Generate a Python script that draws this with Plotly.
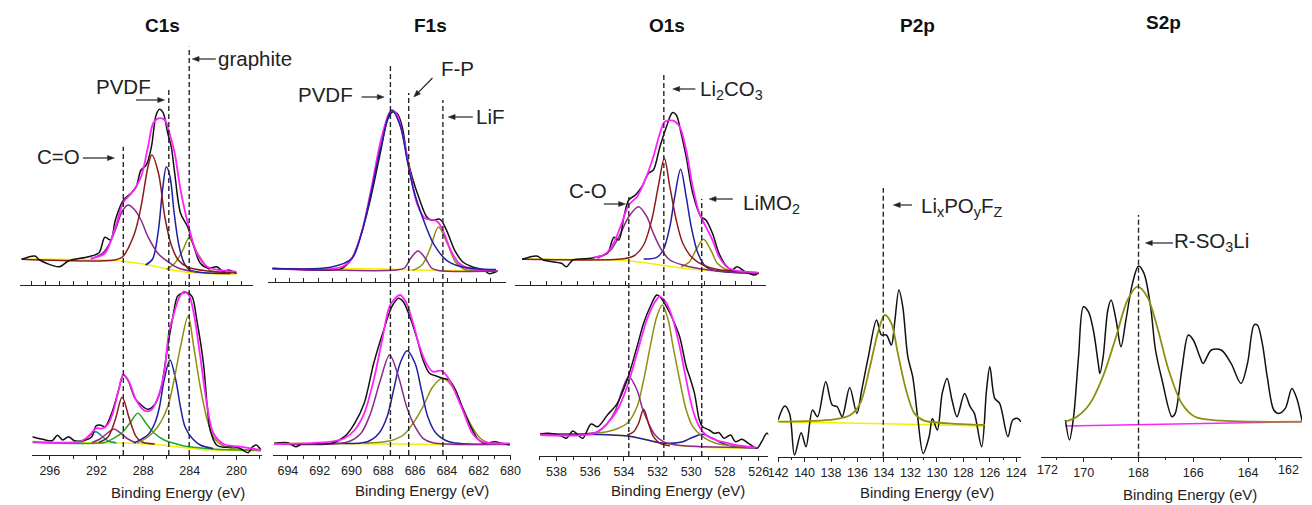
import math
import plotly.graph_objects as go

W, H = 1312, 505

# ---------------- data: (binding energy eV, intensity a.u.) ----------------
# C1s, upper spectrum
C1S_TOP_EXP = [(298.45, 25.7), (297.3, 29), (296.9, 25), (295.2, 18.3), (294.4, 24.3), (292.7, 28.3), (291.8, 32.3),
               (291.3, 47.7), (290.8, 45), (290.4, 65), (289.7, 85), (289.0, 92.3), (288.6, 98.3), (288.2, 115),
               (287.75, 120), (287.3, 138.3), (286.9, 170), (286.6, 175.7), (286.3, 172.3), (285.9, 151.7),
               (285.6, 138.3), (285.3, 111.7), (284.8, 71.7), (284.2, 58.3), (283.65, 38.3), (283.1, 21.7),
               (282.4, 16.7), (281.7, 18.3), (281.1, 13.3), (280.7, 15), (280.0, 11.7)]
C1S_TOP_FIT = [(292.5, 26.5), (291.3, 31.7), (290.4, 58), (289.7, 83), (289.0, 92), (288.2, 108), (287.6, 138),
               (287.15, 161.7), (286.7, 166.7), (286.15, 165), (285.75, 151.7), (285.3, 131.7), (284.8, 95),
               (284.1, 58.3), (283.4, 31.7), (282.5, 18.3), (281.1, 14.3), (280.0, 13.3)]
C1S_TOP_BG = [(298.45, 25.7), (292.0, 25.3), (290.0, 24), (288.0, 21), (286.5, 17.5), (285.0, 14), (283.5, 12), (280.0, 11)]
C1S_TOP_CO = [(292.5, 26), (291.5, 31.7), (290.97, 40), (290.4, 55), (289.8, 74), (289.3, 80), (288.8, 76), (288.2, 65),
              (287.6, 48.3), (286.75, 31.7), (285.9, 23.3), (285.0, 17), (283.5, 13)]
C1S_TOP_PK2 = [(298.45, 25.7), (290.5, 25), (289.8, 28), (288.8, 50), (288.2, 78), (287.6, 118), (287.27, 130),
               (286.7, 112), (286.15, 68), (285.6, 40), (285.0, 25), (284.2, 18), (282.5, 14), (280.0, 12)]
C1S_TOP_PVDF = [(287.8, 20), (287.2, 26), (286.7, 55), (286.35, 95), (286.02, 118.3), (285.7, 108), (285.35, 72),
                (284.95, 40), (284.5, 22), (284.0, 15), (283.0, 12.5), (280.5, 11.5)]
C1S_TOP_GRAPH = [(286.0, 15.5), (285.3, 21.7), (284.6, 35), (284.08, 46.7), (283.4, 33), (282.8, 22), (282.3, 15),
                 (281.5, 12.5), (280.5, 12)]

# C1s, lower spectrum
C1S_BOT_EXP = [(297.5, 18.3), (296.6, 15.7), (295.8, 14.3), (295.35, 19.7), (294.9, 15), (294.4, 18.3), (293.9, 14.3),
               (293.2, 14.3), (292.4, 18.3), (292.05, 29), (291.7, 30), (291.27, 28.3), (290.7, 41.7), (290.1, 65),
               (289.7, 80), (289.3, 75), (288.7, 56.7), (288.17, 50), (287.6, 45.7), (287.04, 50), (286.5, 65),
               (285.9, 108.3), (285.5, 135), (285.07, 158.3), (284.8, 161), (284.2, 162.3), (283.8, 158.3),
               (283.4, 135), (282.83, 91.7), (282.5, 48.3), (282.25, 25), (281.7, 10), (281.1, 7.7), (280.3, 8.3),
               (279.7, 6.7), (279.0, 2.3), (278.6, 8.3), (278.3, 10), (277.9, 5)]
C1S_BOT_FIT = [(297.5, 13.3), (293.3, 14), (292.5, 21), (292.05, 26.7), (291.5, 26.5), (291.0, 31), (290.6, 42),
               (290.1, 65), (289.7, 80.7), (289.15, 71.7), (288.6, 55), (287.88, 44.3), (287.3, 45), (286.76, 56.7),
               (286.2, 81.7), (285.8, 121.7), (285.35, 141.7), (284.93, 156.7), (284.5, 163.3), (284.08, 160),
               (283.66, 141.7), (283.1, 98.3), (282.5, 48.3), (281.97, 21.7), (281.1, 11), (279.7, 8.3), (277.9, 5)]
C1S_BOT_BG = [(297.5, 12.5), (290.0, 12), (287.0, 10.5), (285.0, 8), (283.0, 5.5), (277.9, 4.5)]
C1S_BOT_P1 = [(293.8, 12.5), (293.1, 14), (292.6, 19), (292.05, 23.3), (291.55, 19), (291.0, 14), (290.3, 12.3)]
C1S_BOT_P2 = [(292.4, 12.3), (291.7, 16), (291.0, 22.5), (290.5, 26), (290.0, 22.5), (289.3, 16), (288.6, 12.2)]
C1S_BOT_P3 = [(291.8, 12.5), (291.0, 18.3), (290.4, 35), (289.8, 57.7), (289.15, 35), (288.6, 18.3), (288.1, 13), (287.0, 11)]
C1S_BOT_P4 = [(297.5, 12.5), (291.3, 12.5), (290.7, 15.7), (289.86, 21.7), (289.15, 31.7), (288.45, 41.7), (287.75, 31.7),
              (287.04, 21.7), (286.2, 15), (285.35, 11.7), (284.5, 9), (282.0, 6), (277.9, 4.5)]
C1S_BOT_P5 = [(288.8, 12), (288.17, 15.7), (287.6, 20), (287.0, 31.7), (286.6, 48), (286.2, 75), (285.7, 95), (285.2, 75),
              (284.8, 48), (284.4, 28), (283.8, 16.7), (283.1, 10), (282.0, 6.5)]
C1S_BOT_P6 = [(288.5, 12), (287.6, 18), (286.76, 28), (285.9, 48), (285.35, 75), (284.8, 108), (284.14, 139),
              (283.66, 108), (283.1, 68), (282.5, 35), (281.97, 18), (281.1, 9), (280.0, 6), (277.9, 4.5)]

# F1s, upper spectrum
F1S_TOP_EXP = [(694.97, 13.4), (693.32, 12.4), (691.67, 11.7), (690.64, 13.4), (690.0, 23.4), (689.4, 48.4),
               (688.8, 85), (688.18, 131.7), (687.77, 161.7), (687.46, 170), (687.15, 168.4), (686.84, 155),
               (686.53, 125), (686.22, 105), (685.81, 85), (685.3, 65), (685.0, 61.7), (684.47, 62.7),
               (684.06, 51.7), (683.55, 31.7), (683.04, 20), (682.42, 15), (681.7, 11.7), (681.4, 8.4), (680.87, 11)]
F1S_TOP_FIT = [(694.97, 13.4), (690.64, 15), (690.0, 23.4), (689.4, 48.4), (688.8, 91.7), (688.18, 141.7),
               (687.67, 168.4), (687.46, 171.7), (687.15, 166.7), (686.74, 141.7), (686.33, 108.4), (685.91, 78.4),
               (685.4, 63.4), (684.88, 62), (684.6, 60), (684.2, 48), (683.8, 32), (683.3, 19), (682.63, 13.4),
               (680.87, 11)]
F1S_TOP_BG = [(694.97, 13.4), (688.0, 13), (686.0, 12), (684.0, 11.5), (680.87, 11)]
F1S_TOP_PVDF = [(694.97, 13.4), (691.26, 15), (690.0, 23.4), (689.4, 48.4), (688.8, 88.4), (688.18, 135), (687.5, 171.7),
                (686.94, 155), (686.53, 121.7), (686.12, 91.7), (685.5, 61.7), (684.88, 38.4), (684.06, 21.7),
                (683.04, 15), (680.97, 12.4)]
F1S_TOP_FP = [(694.97, 13.4), (687.2, 12), (686.7, 14), (686.3, 24), (685.85, 31), (685.4, 24), (685.0, 14),
              (684.6, 11.5), (680.87, 11)]
F1S_TOP_LIF = [(686.2, 11.5), (685.6, 17), (685.1, 33), (684.57, 55), (684.0, 38), (683.5, 20), (682.9, 12.5), (682.0, 11)]

# F1s, lower spectrum
F1S_BOT_EXP = [(694.86, 11.7), (694.0, 12.3), (693.5, 8.3), (693.1, 11), (691.26, 11.7), (690.44, 18.3), (689.8, 31.7),
               (689.2, 51.7), (688.6, 91.7), (687.97, 125), (687.46, 148.3), (687.04, 156.7), (686.74, 153.3),
               (686.33, 138.3), (685.91, 118.3), (685.5, 95), (685.09, 81.7), (684.68, 79), (684.27, 76.7),
               (683.86, 75), (683.45, 65), (683.04, 48.3), (682.5, 28.3), (682.0, 15), (681.6, 11.7), (680.97, 13.3),
               (680.56, 11.7), (680.05, 10)]
F1S_BOT_FIT = [(694.86, 11), (691.26, 13.3), (690.44, 16.7), (689.8, 25), (689.2, 41.7), (688.6, 75), (688.07, 115),
               (687.56, 150), (686.94, 160), (686.53, 151.7), (686.12, 131.7), (685.71, 108.3), (685.3, 91.7),
               (684.88, 83.3), (684.37, 84.3), (683.96, 78.3), (683.45, 61.7), (682.92, 41.7), (682.4, 21.7),
               (681.8, 13.3), (680.05, 11.7)]
F1S_BOT_BG = [(694.86, 11.7), (687.0, 11), (684.0, 10.5), (680.05, 10)]
F1S_BOT_PVDF = [(694.86, 11), (690.2, 13.3), (689.4, 21.7), (688.8, 41.7), (688.18, 75), (687.6, 100), (687.04, 78.3),
                (686.53, 48.3), (686.0, 28.3), (685.5, 16.7), (684.88, 12.3), (680.05, 11)]
F1S_BOT_FP = [(691.26, 11.7), (689.0, 13.3), (688.27, 21.7), (687.76, 38.3), (687.35, 65), (686.94, 91.7), (686.5, 104.3),
              (686.0, 91.7), (685.6, 65), (685.2, 38.3), (684.68, 21.7), (683.86, 13.3), (680.05, 11)]
F1S_BOT_LIF = [(689.2, 11.7), (687.56, 14.3), (686.74, 20), (686.12, 31.7), (685.5, 48.3), (684.88, 68.3), (684.27, 76.7),
               (683.65, 68.3), (683.04, 48.3), (682.42, 28.3), (681.9, 16.7), (681.4, 12.3), (680.05, 11)]

# O1s, upper spectrum
O1S_TOP_EXP = [(540.05, 25.7), (539.17, 29), (538.78, 25), (537.71, 21.7), (537.42, 18.3), (537.03, 25), (535.95, 26.7),
               (535.56, 28.3), (534.98, 31.7), (534.59, 47.7), (534.30, 45), (534.0, 68.3), (533.71, 85), (533.32, 90),
               (532.93, 98.3), (532.54, 111.7), (532.25, 115), (531.86, 138.3), (531.47, 158.3), (531.12, 172.3),
               (530.89, 170), (530.6, 151.7), (530.3, 128.3), (529.91, 91.7), (529.42, 68.3), (529.13, 65),
               (528.74, 51.7), (528.35, 31.7), (527.96, 20), (527.57, 15), (527.28, 18.3), (526.79, 13.3),
               (526.21, 10), (526.01, 12.3)]
O1S_TOP_FIT = [(535.8, 27.5), (535.2, 30), (534.78, 36.7), (534.2, 58.3), (533.71, 80), (533.22, 88.3), (532.74, 105),
               (532.25, 128.3), (531.86, 151.7), (531.57, 163.3), (531.08, 164.3), (530.69, 158.3), (530.3, 135),
               (529.91, 98.3), (529.52, 71.7), (529.13, 58.3), (528.74, 45), (528.35, 28.3), (527.77, 16.7),
               (526.01, 12.3)]
O1S_TOP_BG = [(540.05, 25.7), (533.81, 24.3), (531.86, 20), (529.91, 15.7), (527.96, 13.3), (526.01, 11)]
O1S_TOP_CO = [(535.56, 26.7), (534.78, 35), (534.2, 51.7), (533.71, 68.3), (533.13, 78.3), (532.64, 68.3),
              (532.25, 51.7), (531.76, 35), (531.27, 25), (530.5, 20), (528.94, 15), (526.01, 11.7)]
O1S_TOP_CARB = [(540.05, 25.7), (534.0, 26.3), (533.42, 29), (532.83, 40), (532.35, 65), (531.96, 98.3), (531.6, 126.7),
                (531.27, 98.3), (530.89, 65), (530.5, 41.7), (530.0, 28.3), (529.3, 20), (528.5, 15.7), (526.01, 12.3)]
O1S_TOP_PK3 = [(532.83, 26), (532.05, 27.7), (531.66, 35), (531.27, 58.3), (530.98, 88.3), (530.63, 115.7), (530.3, 88.3),
               (530.0, 58.3), (529.6, 31.7), (529.13, 18.3), (528.55, 14.3), (526.01, 11.7)]
O1S_TOP_LIMO = [(530.6, 18.3), (530.1, 23.3), (529.72, 35), (529.27, 45.7), (528.84, 35), (528.45, 21.7), (527.96, 15.7),
                (527.38, 13.3)]

# O1s, lower spectrum
O1S_BOT_EXP = [(538.97, 22), (538.49, 22.7), (537.71, 20), (537.42, 17.7), (537.03, 25), (536.73, 21), (536.44, 17.7),
               (535.95, 32), (535.56, 29.3), (534.98, 41), (534.39, 52.7), (533.81, 76), (533.22, 109.3),
               (532.83, 132.7), (532.44, 149.3), (532.05, 161), (531.86, 159.3), (531.47, 149.3), (531.08, 136),
               (530.69, 119.3), (530.3, 89.3), (530.1, 79.3), (529.81, 62.7), (529.52, 36), (529.33, 29.3),
               (528.94, 26), (528.64, 22.7), (528.35, 23.3), (528.06, 17.7), (527.67, 21), (527.38, 14.3),
               (526.99, 16.7), (526.6, 12.7), (526.11, 7.7), (525.82, 14.3), (525.52, 22.7), (525.33, 20)]
O1S_BOT_FIT = [(538.97, 21), (535.76, 22.7), (534.98, 32.7), (534.39, 46), (533.81, 69.3), (533.22, 102.7),
               (532.64, 136), (532.15, 154.3), (531.86, 159.3), (531.47, 152.7), (531.08, 136), (530.69, 109.3),
               (530.3, 76), (529.91, 46), (529.52, 29.3), (529.13, 21), (528.55, 16), (527.77, 12.7), (526.99, 10),
               (526.11, 8.3)]
O1S_BOT_BG = [(538.97, 22), (533.81, 20), (531.86, 13.3), (529.91, 9.3), (526.11, 8)]
O1S_BOT_CARB = [(538.97, 22), (535.0, 24.3), (533.81, 32.7), (533.22, 49.3), (532.83, 76), (532.44, 109.3), (532.05, 139.3),
                (531.72, 151), (531.37, 136), (531.08, 109.3), (530.69, 76), (530.3, 46), (529.91, 29.3),
                (529.33, 19.3), (528.55, 12.7), (526.99, 9.3), (526.11, 8.3)]
O1S_BOT_CO = [(538.97, 22), (535.56, 24.3), (534.98, 32.7), (534.49, 46), (534.1, 66), (533.71, 79.3), (533.22, 66),
              (532.93, 49.3), (532.54, 32.7), (532.15, 21), (531.66, 14.3), (530.89, 11), (526.11, 8.3)]
O1S_BOT_PK3 = [(533.81, 21), (533.42, 24.3), (533.13, 32.7), (532.83, 46.7), (532.54, 32.7), (532.25, 19.3),
               (531.86, 12.7), (531.27, 10.3)]
O1S_BOT_LIMO = [(538.97, 22), (533.81, 20), (531.86, 13.3), (531.27, 12.7), (530.5, 14.3), (529.91, 18.7), (529.33, 21.7),
                (528.74, 17.7), (528.16, 12.7), (527.38, 9.3), (526.11, 8)]

# P2p
P2P_EXP = [(142.0, 36.7), (141.5, 50.7), (141.13, 43), (140.76, 1.7), (140.26, 24), (139.89, 10), (139.4, 46.7),
           (139.02, 40), (138.4, 75), (137.91, 51.7), (137.54, 50), (137.16, 40), (136.59, 69.3), (136.05, 43.3),
           (135.68, 66.7), (135.18, 100), (134.56, 136.7), (134.19, 121.7), (133.82, 121.7), (133.44, 111.7),
           (133.2, 133.3), (132.87, 166.7), (132.58, 150), (132.2, 100), (131.83, 80), (131.46, 40), (131.04, 3.3),
           (130.59, 20), (130.34, 38.3), (129.97, 26.7), (129.6, 63.3), (129.23, 78.3), (128.86, 56.7), (128.48, 40),
           (127.91, 63.3), (127.49, 50), (127.17, 43.3), (126.62, 10), (126.25, 66.7), (126.0, 90), (125.63, 58.3),
           (125.26, 53.3), (124.64, 20), (124.27, 36.7), (123.9, 38.3), (123.65, 35)]
P2P_FIT = [(142.0, 35), (137.78, 37.3), (136.54, 41.7), (135.8, 53.3), (135.06, 90), (134.44, 125), (133.94, 141.7),
           (133.44, 133.3), (132.95, 103.3), (132.33, 66.7), (131.7, 43.3), (130.96, 36), (129.1, 33.3), (126.38, 31.7)]
P2P_BG = [(142.0, 35), (134.0, 33), (126.38, 30.7)]

# S2p
S2P_EXP = [(170.67, 36.7), (170.52, 16.7), (170.37, 40), (170.19, 100), (170.01, 150), (169.83, 145), (169.65, 126.7),
           (169.47, 93.3), (169.41, 83.3), (169.29, 100), (169.12, 146.7), (169.0, 156.7), (168.82, 136.7),
           (168.64, 110), (168.46, 136.7), (168.22, 173.3), (168.0, 190.7), (167.8, 183.3), (167.56, 150),
           (167.38, 106.7), (167.14, 76.7), (166.78, 40), (166.66, 43.3), (166.42, 86.7), (166.18, 121.7),
           (166.0, 116.7), (165.76, 100), (165.64, 93.3), (165.34, 106.7), (164.98, 106.7), (164.62, 93.3),
           (164.26, 73.3), (164.02, 93.3), (163.78, 131.7), (163.66, 131.7), (163.48, 113.3), (163.3, 80),
           (163.06, 46.7), (162.88, 43.3), (162.64, 48.3), (162.4, 68.3), (162.22, 58.3), (162.03, 36)]
S2P_FIT = [(170.67, 35), (170.25, 40), (169.77, 53.3), (169.3, 80), (168.82, 120), (168.4, 156.7), (168.04, 170),
           (167.68, 160), (167.32, 130), (166.9, 86.7), (166.42, 53.3), (165.94, 40), (164.98, 36), (163.78, 35),
           (162.03, 35)]
S2P_BG = [(170.67, 30.7), (162.03, 35)]
# S2p edge labels drawn squeezed at the axis ends in the original figure
S2P_EDGE_LABELS = ["172", "162"]

# peak assignment positions (eV)
C1S_LINES = [289.7, 285.8, 284.05]
F1S_LINES = [687.55, 686.4, 684.25]
O1S_LINES = [533.71, 531.63, 529.38]
P2P_LINES = [134.05]
S2P_LINES = [168.0]

TITLES = ["C1s", "F1s", "O1s", "P2p", "S2p"]

# ---------------- styling ----------------
BLACK = "#111111"
MAGENTA = "#ff22ff"
PURPLE = "#8b2a8b"
BROWN = "#8e1b1b"
BLUE = "#1f1fa3"
OLIVE = "#8f8f12"
YELLOW = "#f2f200"
TEAL = "#178f8f"
GREEN = "#22a822"
FONT = "Liberation Sans, Arial, sans-serif"


def PX(x):
    return x / W


def PY(y):
    return 1 - y / H


# panel geometry in pixels: (left, right, top, bottom(axis line)), x range, bottom?, dtick, minor dtick
PANELS = [
    dict(px=(10, 247, 40, 285), xr=(298.6, 278.56), bottom=False, dtick=1.2),
    dict(px=(22.7, 256, 285, 455), xr=(297.5, 277.8), bottom=True, dtick=4, minor=2),
    dict(px=(262, 503.3, 40, 282), xr=(695.25, 680.36), bottom=False, dtick=0.9),
    dict(px=(267, 509, 285, 455), xr=(694.94, 679.95), bottom=True, dtick=2, minor=1),
    dict(px=(513, 768, 40, 285), xr=(540.46, 525.54), bottom=False, dtick=0.94),
    dict(px=(536.7, 770, 285, 456), xr=(539.07, 525.43), bottom=True, dtick=2, minor=1),
    dict(px=(780, 1027, 150, 456.7), xr=(142.0, 123.62), bottom=True, dtick=2, minor=1),
    dict(px=(1046.7, 1312, 150, 456.7), xr=(171.57, 162.03), bottom=True, dtick=2, minor=1),
]

fig = go.Figure()


def add(panel, pts, color, width=1.5):
    i = panel + 1
    fig.add_trace(go.Scatter(
        x=[p[0] for p in pts], y=[p[1] for p in pts], mode="lines",
        line=dict(color=color, width=width, shape="spline", smoothing=0.9),
        xaxis="x" if i == 1 else f"x{i}", yaxis="y" if i == 1 else f"y{i}",
        hoverinfo="skip", showlegend=False))


# C1s
add(0, C1S_TOP_BG, YELLOW); add(0, C1S_TOP_GRAPH, OLIVE); add(0, C1S_TOP_PVDF, BLUE); add(0, C1S_TOP_CO, PURPLE)
add(0, C1S_TOP_PK2, BROWN); add(0, C1S_TOP_EXP, BLACK); add(0, C1S_TOP_FIT, MAGENTA, 1.8)
add(1, C1S_BOT_BG, YELLOW); add(1, C1S_BOT_P4, GREEN); add(1, C1S_BOT_P1, TEAL); add(1, C1S_BOT_P2, PURPLE)
add(1, C1S_BOT_P3, BROWN); add(1, C1S_BOT_P5, BLUE); add(1, C1S_BOT_P6, OLIVE)
add(1, C1S_BOT_EXP, BLACK); add(1, C1S_BOT_FIT, MAGENTA, 1.8)
# F1s
add(2, F1S_TOP_BG, YELLOW); add(2, F1S_TOP_LIF, OLIVE); add(2, F1S_TOP_EXP, BLACK); add(2, F1S_TOP_FIT, MAGENTA, 1.8)
add(2, F1S_TOP_FP, PURPLE); add(2, F1S_TOP_PVDF, BLUE)
add(3, F1S_BOT_BG, YELLOW); add(3, F1S_BOT_LIF, OLIVE); add(3, F1S_BOT_FP, BLUE); add(3, F1S_BOT_PVDF, PURPLE)
add(3, F1S_BOT_EXP, BLACK); add(3, F1S_BOT_FIT, MAGENTA, 1.8)
# O1s
add(4, O1S_TOP_BG, YELLOW); add(4, O1S_TOP_LIMO, OLIVE); add(4, O1S_TOP_PK3, BLUE); add(4, O1S_TOP_CO, PURPLE)
add(4, O1S_TOP_CARB, BROWN); add(4, O1S_TOP_EXP, BLACK); add(4, O1S_TOP_FIT, MAGENTA, 1.8)
add(5, O1S_BOT_BG, YELLOW); add(5, O1S_BOT_LIMO, BLUE); add(5, O1S_BOT_CARB, OLIVE); add(5, O1S_BOT_CO, PURPLE)
add(5, O1S_BOT_PK3, BROWN); add(5, O1S_BOT_EXP, BLACK); add(5, O1S_BOT_FIT, MAGENTA, 1.8)
# P2p, S2p
add(6, P2P_BG, YELLOW); add(6, P2P_EXP, BLACK); add(6, P2P_FIT, OLIVE, 1.8)
add(7, S2P_BG, MAGENTA); add(7, S2P_EXP, BLACK); add(7, S2P_FIT, OLIVE, 1.8)

layout = dict(width=W, height=H, margin=dict(l=0, r=0, t=0, b=0), paper_bgcolor="white",
              plot_bgcolor="rgba(0,0,0,0)", font=dict(family=FONT, color="#222"), showlegend=False)

for k, p in enumerate(PANELS):
    i = k + 1
    xl, xr, yt, yb = p["px"]
    xname = "xaxis" if i == 1 else f"xaxis{i}"
    yname = "yaxis" if i == 1 else f"yaxis{i}"
    xa = dict(domain=[PX(xl), PX(xr)], range=list(p["xr"]), anchor="y" if i == 1 else f"y{i}",
              showline=True, linecolor="#222", linewidth=1.3, showgrid=False, zeroline=False,
              ticks="outside" if p["bottom"] else "inside", ticklen=4, tickwidth=1, tickcolor="#222",
              dtick=p["dtick"], tick0=0, showticklabels=p["bottom"],
              tickfont=dict(size=12.5, color="#222", family=FONT), fixedrange=True)
    if p["bottom"]:
        xa["minor"] = dict(dtick=p["minor"], ticks="outside", ticklen=2.5, tickcolor="#222", tickwidth=1)
    layout[xname] = xa
    layout[yname] = dict(domain=[PY(yb), PY(yt)], range=[0, yb - yt], visible=False,
                         anchor="x" if i == 1 else f"x{i}", fixedrange=True)

shapes = []
# dashed assignment lines: (axis, energies, start y px for each, end y px)
DASH = [("x2", C1S_LINES, [146.7, 90, 46.7], 455), ("x4", F1S_LINES, [65, 93, 100], 455),
        ("x6", O1S_LINES, [197, 73, 199], 456), ("x7", P2P_LINES, [188], 456.7), ("x8", S2P_LINES, [215], 456.7)]
for ax, es, tops, bot in DASH:
    for e, t in zip(es, tops):
        shapes.append(dict(type="line", xref=ax, yref="paper", x0=e, x1=e, y0=PY(bot), y1=PY(t),
                           line=dict(color="#262626", width=1.4, dash="5px,3px")))

# arrows: head (x, y), tail (x, y) in pixels
ARROWS = [((106, 158), (74, 158)), ((157, 100), (128, 100)), ((185, 59), (209, 59)),
          ((380, 97), (357, 97)), ((410, 97), (429, 78)), ((445, 117), (470, 117)),
          ((673, 89), (696, 89)), ((625, 204), (603, 204)), ((710, 199), (734, 199)),
          ((897, 205), (916, 205)), ((1153, 243), (1181, 243))]
for (hx, hy), (tx, ty) in ARROWS:
    L = math.hypot(hx - tx, hy - ty)
    dx, dy = (hx - tx) / L, (hy - ty) / L
    nx, ny = -dy, dx
    bx, by = hx - 7 * dx, hy - 7 * dy
    shapes.append(dict(type="line", xref="paper", yref="paper", x0=PX(tx), y0=PY(ty), x1=PX(bx), y1=PY(by),
                       line=dict(color="#222", width=1.2)))
    path = (f"M {PX(hx)},{PY(hy)} L {PX(bx + 2.6 * nx)},{PY(by + 2.6 * ny)} "
            f"L {PX(bx - 2.6 * nx)},{PY(by - 2.6 * ny)} Z")
    shapes.append(dict(type="path", xref="paper", yref="paper", path=path, fillcolor="#222",
                       line=dict(color="#222", width=0.5)))
layout["shapes"] = shapes

ann = []
# panel titles
for t, (x, y) in zip(TITLES, [(155, 25), (427, 25), (667, 25), (922, 25), (1171, 22)]):
    ann.append(dict(text=f"<b>{t}</b>", x=PX(x), y=PY(y), xref="paper", yref="paper", showarrow=False,
                    xanchor="center", yanchor="middle", font=dict(size=19, color="#111", family=FONT)))
# axis titles
for x, y in [(171, 492), (418, 490), (678, 490), (931, 492), (1198, 494)]:
    ann.append(dict(text="Binding Energy (eV)", x=PX(x), y=PY(y), xref="paper", yref="paper", showarrow=False,
                    xanchor="center", yanchor="middle", font=dict(size=15, color="#222", family=FONT)))
# S2p end labels as they appear in the original
for t, x in zip(S2P_EDGE_LABELS, [1054, 1298]):
    ann.append(dict(text=t, x=PX(x), y=PY(470), xref="paper", yref="paper", showarrow=False,
                    xanchor="center", yanchor="middle", font=dict(size=12.5, color="#222", family=FONT)))
# labels: text, x, y, anchor
LABELS = [("C=O", 73, 156, "right"), ("PVDF", 115, 86, "center"), ("graphite", 209, 59, "left"),
          ("PVDF", 350, 95, "right"), ("F-P", 454, 68, "center"), ("LiF", 471, 117, "left"),
          ("Li<sub>2</sub>CO<sub>3</sub>", 699, 90, "left"), ("C-O", 587, 190, "center"),
          ("LiMO<sub>2</sub>", 742, 204, "left"), ("Li<sub>x</sub>PO<sub>y</sub>F<sub>Z</sub>", 923, 207, "left"),
          ("R-SO<sub>3</sub>Li", 1180, 242, "left")]
for t, x, y, a in LABELS:
    ann.append(dict(text=t, x=PX(x), y=PY(y), xref="paper", yref="paper", showarrow=False,
                    xanchor=a, yanchor="middle", font=dict(size=20.5, color="#222", family=FONT)))
layout["annotations"] = ann

fig.update_layout(**layout)
fig.write_html("out.html", config=dict(displayModeBar=False))
